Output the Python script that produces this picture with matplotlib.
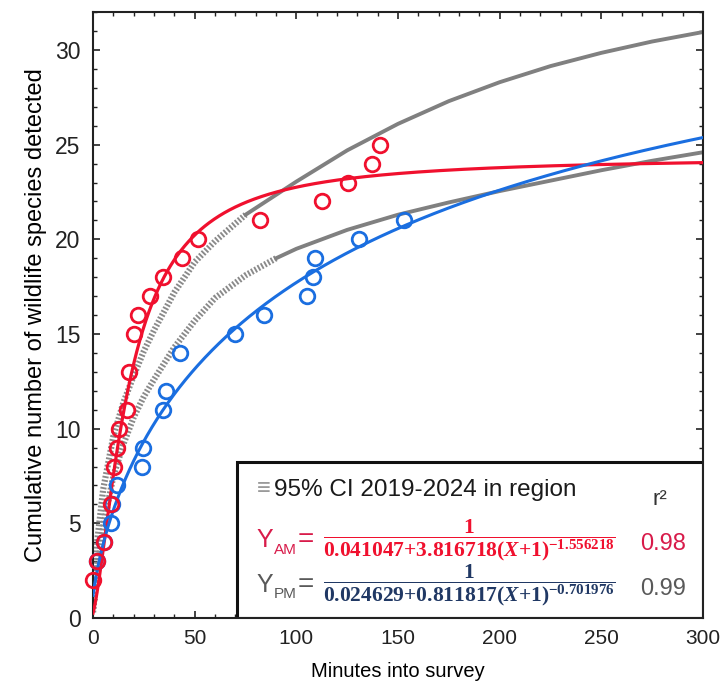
import numpy as np
import matplotlib.pyplot as plt
from matplotlib.patches import Rectangle
from matplotlib.ticker import MultipleLocator

plt.rcParams['font.family'] = ['Liberation Sans', 'DejaVu Sans']
plt.rcParams['mathtext.fontset'] = 'custom'
plt.rcParams['mathtext.rm'] = 'Liberation Serif:bold'
plt.rcParams['mathtext.bf'] = 'Liberation Serif:bold'
plt.rcParams['mathtext.it'] = 'Liberation Serif:italic:bold'

# Morning (AM) survey: minutes vs cumulative species
am_minutes = [0, 2, 5.5, 9, 10.5, 11.6, 13, 16.5, 17.5, 20, 22, 28, 34.5, 44, 51.5, 82, 112.5, 125.5, 137, 141]
am_species = [2, 3, 4, 6, 8, 9, 10, 11, 13, 15, 16, 17, 18, 19, 20, 21, 22, 23, 24, 25]

# Evening (PM) survey
pm_minutes = [2, 5.5, 9, 9.5, 12, 24, 24.5, 34.5, 36, 43, 70, 84, 105, 108, 109, 131, 153]
pm_species = [3, 4, 5, 6, 7, 8, 9, 11, 12, 14, 15, 16, 17, 18, 19, 20, 21]

# fitted model parameters  Y = 1 / (a + b (X+1)^c)
am_fit = [0.041047, 3.816718, -1.556218]
pm_fit = [0.024629, 0.811817, -0.701976]
am_r2 = "0.98"
pm_r2 = "0.99"

# 95% CI 2019-2024 in region
ci_x = [0, 2, 5, 10, 15, 20, 25, 30, 40, 50, 60, 75, 90, 100, 125, 150, 175, 200, 225, 250, 275, 300]
ci_upper = [0.5, 4.0, 6.8, 9.6, 11.4, 12.8, 14.1, 15.2, 17.2, 18.8, 19.9, 21.3, 22.35, 23.05, 24.7, 26.1,
            27.3, 28.3, 29.15, 29.85, 30.45, 30.95]
ci_lower = [0.3, 2.5, 4.8, 7.5, 9.2, 10.6, 11.7, 12.6, 14.3, 15.7, 16.9, 18.1, 19.0, 19.5, 20.5, 21.3,
            21.95, 22.55, 23.1, 23.65, 24.15, 24.6]

red = '#f0102e'
blue = '#1a6ee0'
crimson = '#d81b4a'
navy = '#203864'
gray = '#808080'


def fit_curve(x, p):
    return 1.0 / (p[0] + p[1] * (x + 1) ** p[2])


fig = plt.figure(figsize=(7.24, 6.94), dpi=100)
ax = fig.add_axes([0.1285, 0.1095, 0.8425, 0.873])

# CI curves: hatched where steep, solid further out
for ci, n in [(ci_upper, 11), (ci_lower, 12)]:
    ax.plot(ci_x[:n + 1], ci[:n + 1], color='#8a8a8a', lw=4.5, dashes=(0.3, 0.3),
            solid_capstyle='butt', zorder=2)
    ax.plot(ci_x[n:], ci[n:], color=gray, lw=2.8, zorder=2)

xs = np.linspace(0, 300, 601)
ax.plot(xs, fit_curve(xs, am_fit), color=red, lw=2.3, zorder=3)
ax.plot(xs, fit_curve(xs, pm_fit), color=blue, lw=2.2, zorder=3)

ax.plot(pm_minutes, pm_species, 'o', mfc='none', mec=blue, ms=10.5, mew=2.0, clip_on=False, zorder=4)
ax.plot(am_minutes, am_species, 'o', mfc='none', mec=red, ms=10.5, mew=2.0, clip_on=False, zorder=4)

ax.set_xlim(0, 300)
ax.set_ylim(0, 32)
ax.xaxis.set_major_locator(MultipleLocator(50))
ax.xaxis.set_minor_locator(MultipleLocator(10))
ax.yaxis.set_major_locator(MultipleLocator(5))
ax.yaxis.set_minor_locator(MultipleLocator(1))
ax.tick_params(which='both', direction='in', top=True, right=True, colors='#222222')
ax.tick_params(which='major', length=5, width=1.2)
ax.tick_params(which='minor', length=3, width=1.0)
ax.tick_params(axis='x', labelsize=15, pad=8)
ax.tick_params(axis='y', labelsize=16.5, pad=9)
for s in ax.spines.values():
    s.set_linewidth(1.5)
    s.set_color('#222222')

ax.set_xlabel("Minutes into survey", fontsize=14.5, labelpad=10)
ax.set_ylabel("Cumulative number of wildlife species detected", fontsize=17, labelpad=6)

# legend / equation box
box = Rectangle((0.236, 0.0), 0.764, 0.2575, transform=ax.transAxes, facecolor='white',
                edgecolor='#111111', lw=2.2, zorder=2.4)
ax.add_patch(box)

ax.text(80.5, 6.8, "\u2261", fontsize=17, color='#9a9a9a', ha='left', va='center', zorder=5)
ax.text(89, 6.76, "95% CI 2019-2024 in region", fontsize=17.5, color='#1a1a1a',
        ha='left', va='center', zorder=5)
ax.text(279, 6.25, "r\u00b2", fontsize=16, color='#333333', ha='center', va='center', zorder=5)

am_eq = (r'$\dfrac{1}{%s{+}%s(\mathit{X}{+}1)^{%s}}$'
         % (f"{am_fit[0]:.6f}", f"{am_fit[1]:.6f}", f"{am_fit[2]:.6f}"))
pm_eq = (r'$\dfrac{1}{%s{+}%s(\mathit{X}{+}1)^{%s}}$'
         % (f"{pm_fit[0]:.6f}", f"{pm_fit[1]:.6f}", f"{pm_fit[2]:.6f}"))

for lab, eq, r2, yc, col_lab, col_eq in [("AM", am_eq, am_r2, 4.1, crimson, red),
                                        ("PM", pm_eq, pm_r2, 1.75, '#595959', navy)]:
    ax.text(80.5, yc, "Y", fontsize=18, color=col_lab, ha='left', va='center', zorder=5)
    ax.text(89, yc - 0.5, lab, fontsize=11, color=col_lab, ha='left', va='center', zorder=5)
    ax.text(100.5, yc, "=", fontsize=20, color=col_lab, ha='left', va='center', zorder=5)
    ax.text(185, yc, eq, fontsize=15.5, color=col_eq, ha='center', va='center', zorder=5)
    ax.text(280.5, yc - 0.2, r2, fontsize=17, color=col_lab, ha='center', va='center', zorder=5)

fig.savefig("out.png", dpi=100)
